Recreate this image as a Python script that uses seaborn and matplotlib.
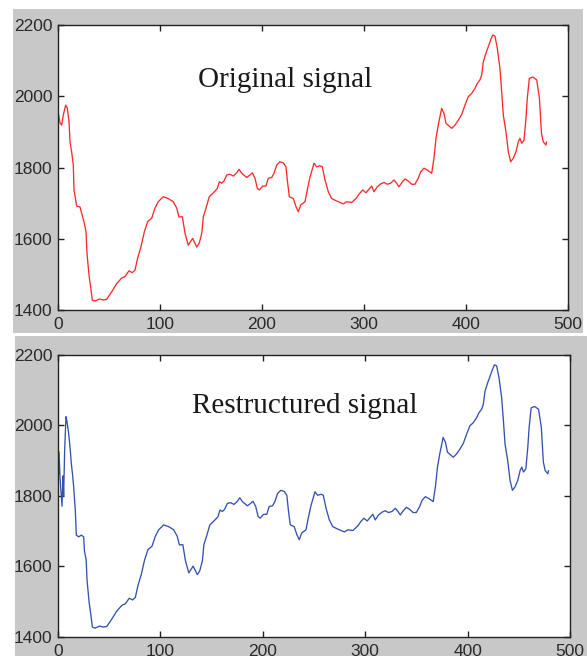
import matplotlib
matplotlib.use("Agg")
import matplotlib.pyplot as plt
from matplotlib.patches import Rectangle
import numpy as np
import pandas as pd
import seaborn as sns

# first few samples differ between the two signals
orig_head_x = [0, 2, 3.6, 5.2, 7.5, 9.1, 10.8, 11.8, 13.4, 15, 15.7, 18.3, 21.6, 23.2]
orig_head_y = [1957, 1925, 1919, 1947, 1975, 1967, 1928, 1872, 1843, 1807, 1737, 1692, 1689, 1672]

rest_head_x = [0, 0.5, 1, 2, 3.9, 4.9, 5.5, 6.5, 7.8, 8.8, 10.4, 12, 13, 14.3, 15.3,
               16.9, 17.9, 20.2, 22.8, 25.1]
rest_head_y = [1930, 1860, 1925, 1851, 1771, 1857, 1800, 1930, 2025, 2011, 1978, 1930, 1892,
               1859, 1826, 1760, 1689, 1684, 1689, 1684]

# the rest of the trace is the same in both panels
tail_x = [25.8, 27.5, 28.4, 30.4, 32, 33.6, 36.3, 40.5, 44.5, 47.7, 52.6, 57.5, 62.5, 65.7,
          69.6, 72.8, 75.5, 78.1, 81.4, 84.6, 87.9, 91.9, 95.1, 98.3, 103.2, 108.1, 113,
          116.4, 118.6, 121.9, 124.5, 127.7, 132, 136, 138.5, 141, 142.5, 145, 148.3, 152.3,
          156.2, 158.2, 160.5, 162.7, 165.4, 168.6, 171.9, 175.2, 177.5, 180.1, 185, 188.2,
          190.5, 193.1, 195.4, 197.4, 200.7, 203.9, 206.2, 209.5, 211.8, 214.4, 217.6, 220.9,
          223.5, 224.8, 226.8, 230.7, 233.3, 235.6, 238, 242.2, 244.4, 247, 251, 253.6, 256.9,
          259.1, 261.8, 265, 268.3, 273.2, 279.7, 283, 288, 292.8, 295.4, 298.7, 302, 304.2,
          307.5, 309.8, 313, 316.4, 319.6, 322.8, 326.2, 329.4, 332, 334.3, 336.9, 340.2,
          343.4, 346.8, 350, 353.2, 355.6, 358.8, 362, 366.4, 368.6, 370.6, 372.8, 376.1,
          378.4, 380.4, 386, 389.2, 392.5, 395.8, 399, 402.3, 405.6, 408.8, 411.1, 413.7,
          415.4, 417, 419.6, 421.9, 424.2, 426.2, 428.4, 430.7, 433.3, 435, 436.6, 439.2,
          441.5, 443.8, 446.4, 449, 451.3, 452.9, 454.6, 456.9, 458.8, 460.1, 462.1, 465.4,
          469.3, 472, 474, 475.8, 478.4, 479]
tail_y = [1644, 1619, 1560, 1498, 1465, 1428, 1425, 1431, 1428, 1430, 1451, 1474, 1490, 1494,
          1510, 1505, 1512, 1546, 1578, 1619, 1648, 1658, 1686, 1704, 1718, 1713, 1704,
          1686, 1661, 1662, 1616, 1582, 1601, 1577, 1588, 1616, 1662, 1685, 1718, 1729,
          1741, 1760, 1756, 1762, 1779, 1781, 1776, 1785, 1795, 1784, 1772, 1779,
          1785, 1770, 1742, 1737, 1748, 1748, 1770, 1772, 1784, 1807, 1816, 1813,
          1802, 1765, 1718, 1713, 1690, 1676, 1695, 1704, 1737, 1772, 1812, 1802, 1805,
          1802, 1765, 1732, 1713, 1706, 1698, 1704, 1702, 1715, 1726, 1737, 1729, 1737,
          1748, 1732, 1746, 1754, 1758, 1753, 1756, 1765, 1756, 1746, 1757, 1768,
          1762, 1753, 1753, 1770, 1788, 1798, 1793, 1784, 1826, 1882, 1919, 1966,
          1952, 1924, 1910, 1919, 1933, 1949, 1975, 1999, 2008, 2022, 2036, 2046,
          2060, 2097, 2121, 2139, 2158, 2172, 2169, 2135, 2078, 2013, 1947, 1900,
          1844, 1816, 1826, 1844, 1872, 1882, 1868, 1877, 1938, 1994, 2050, 2054,
          2046, 1995, 1896, 1872, 1863, 1872]

x_ticks = [0, 100, 200, 300, 400, 500]
y_ticks = [1400, 1600, 1800, 2000, 2200]

orig = pd.DataFrame({"n": orig_head_x + tail_x, "value": orig_head_y + tail_y})
rest = pd.DataFrame({"n": rest_head_x + tail_x, "value": rest_head_y + tail_y})

sns.set_style("ticks")
plt.rcParams["font.family"] = ["Liberation Sans", "DejaVu Sans"]

fig = plt.figure(figsize=(5.87, 6.56), dpi=100, facecolor="white")
grey = "#c8c8c8"
fig.patches.append(Rectangle((0.022, 0.4924), 0.971, 0.4939, transform=fig.transFigure,
                             facecolor=grey, edgecolor="none", zorder=-10))
fig.patches.append(Rectangle((0.0256, 0.0), 0.9744, 0.4878, transform=fig.transFigure,
                             facecolor=grey, edgecolor="none", zorder=-10))

ax1 = fig.add_axes([0.0988, 0.5274, 0.8688, 0.4345])
ax2 = fig.add_axes([0.0988, 0.0290, 0.8722, 0.4299])

panels = [
    (ax1, orig, "#ff2a2a", "Original signal", 0.445, 0.782),
    (ax2, rest, "#3552b0", "Restructured signal", 0.482, 0.794),
]

for ax, df, color, label, tx, ty in panels:
    sns.lineplot(data=df, x="n", y="value", ax=ax, color=color, linewidth=0.95,
                 estimator=None, sort=False)
    ax.set_xlim(0, 500)
    ax.set_ylim(1400, 2200)
    ax.set_xticks(x_ticks)
    ax.set_yticks(y_ticks)
    ax.set_xlabel("")
    ax.set_ylabel("")
    ax.set_facecolor("white")
    for s in ax.spines.values():
        s.set_visible(True)
        s.set_color("#222222")
        s.set_linewidth(1.0)
    ax.tick_params(direction="in", length=4, width=1, color="#222222",
                   top=True, right=True, labelsize=12.5, labelcolor="#2a2a2a")
    ax.tick_params(axis="x", pad=5)
    ax.tick_params(axis="y", pad=4)
    ax.text(tx, ty, label, transform=ax.transAxes, ha="center", va="baseline",
            fontsize=21, family=["Liberation Serif", "DejaVu Serif"], color="#1a1a1a")

fig.savefig("out.png", dpi=100, facecolor=fig.get_facecolor())
